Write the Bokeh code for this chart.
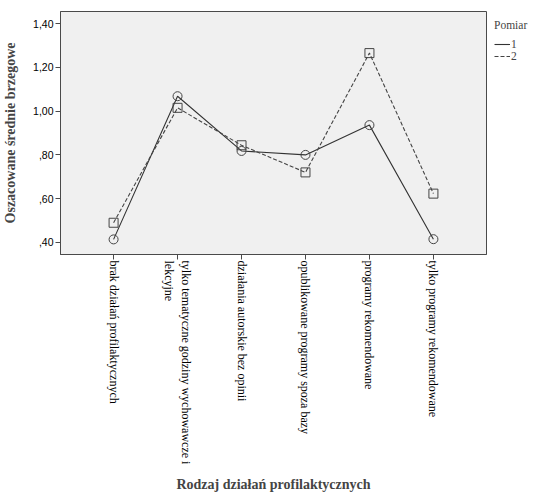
import numpy as np
from bokeh.plotting import figure
from bokeh.models import Range1d, FixedTicker, Legend, LegendItem
from bokeh.embed import file_html
from bokeh.resources import INLINE

categories = [
    "brak działań profilaktycznych",
    "tylko tematyczne godziny wychowawcze i\nlekcyjne",
    "działania autorskie bez opinii",
    "opublikowane programy spoza bazy",
    "programy rekomendowane",
    "tylko programy rekomendowane",
]
pomiar1 = [0.414, 1.068, 0.818, 0.800, 0.936, 0.415]
pomiar2 = [0.490, 1.015, 0.844, 0.720, 1.265, 0.623]
series_names = ["1", "2"]
y_ticks = [0.40, 0.60, 0.80, 1.00, 1.20, 1.40]
y_tick_labels = [",40", ",60", ",80", "1,00", "1,20", "1,40"]

x_idx = list(range(len(categories)))

FW, FH = 426, 243
p = figure(frame_width=FW, frame_height=FH, output_backend="svg", toolbar_location=None,
           x_range=Range1d(-0.83, 5.83), y_range=Range1d(0.345, 1.455),
           min_border_left=54, min_border_top=11, min_border_right=45,
           min_border_bottom=10)

p.background_fill_color = "#F0F0F0"
p.border_fill_color = "white"
p.outline_line_color = "#4a4a4a"
p.outline_line_width = 1
p.grid.visible = False

serif = "Liberation Serif"
sans = "Liberation Sans"

# x axis
p.xaxis.ticker = FixedTicker(ticks=x_idx)
p.xaxis.major_label_overrides = {i: c for i, c in zip(x_idx, categories)}
p.xaxis.major_label_orientation = -np.pi / 2
p.xaxis.major_label_text_font = serif
p.xaxis.major_label_text_font_size = "12px"
p.xaxis.major_label_text_color = "black"
p.xaxis.major_label_standoff = 1
p.xaxis.axis_label = "Rodzaj działań profilaktycznych"
p.xaxis.axis_label_text_font = serif
p.xaxis.axis_label_text_font_style = "bold"
p.xaxis.axis_label_text_font_size = "14px"
p.xaxis.axis_label_standoff = 10

# y axis
p.yaxis.ticker = FixedTicker(ticks=y_ticks)
p.yaxis.major_label_overrides = {t: l for t, l in zip(y_ticks, y_tick_labels)}
p.yaxis.major_label_text_font = sans
p.yaxis.major_label_text_font_size = "10.5px"
p.yaxis.major_label_text_color = "black"
p.yaxis.major_label_standoff = 2
p.yaxis.axis_label = "Oszacowane średnie brzegowe"
p.yaxis.axis_label_text_font = serif
p.yaxis.axis_label_text_font_style = "bold"
p.yaxis.axis_label_text_font_size = "14px"
p.yaxis.axis_label_standoff = 12

for ax in (p.xaxis, p.yaxis):
    ax.axis_line_color = "#4a4a4a"
    ax.major_tick_line_color = "#4a4a4a"
    ax.major_tick_out = 5
    ax.major_tick_in = 0
    ax.minor_tick_line_color = None

c1, c2 = "#333333", "#444444"
l1 = p.line(x_idx, pomiar1, line_color=c1, line_width=1.1)
l2 = p.line(x_idx, pomiar2, line_color=c2, line_width=1.1, line_dash="4 2")
p.scatter(x_idx, pomiar1, marker="circle", size=9, fill_color=None,
          line_color="#444444", line_width=1)
p.scatter(x_idx, pomiar2, marker="square", size=9, fill_color=None,
          line_color="#444444", line_width=1)

legend = Legend(items=[LegendItem(label=series_names[0], renderers=[l1]),
                       LegendItem(label=series_names[1], renderers=[l2])],
                location="top_left", title="Pomiar")
legend.title_text_font = serif
legend.title_text_font_style = "normal"
legend.title_text_font_size = "11.5px"
legend.title_standoff = 7
legend.label_text_font = serif
legend.label_text_font_size = "11.5px"
legend.glyph_width = 16
legend.glyph_height = 10
legend.label_height = 10
legend.label_standoff = 1
legend.spacing = 0
legend.padding = 0
legend.margin = 8
legend.border_line_color = None
legend.background_fill_alpha = 0
p.add_layout(legend, "right")

open("out.html", "w").write(file_html(p, INLINE))
